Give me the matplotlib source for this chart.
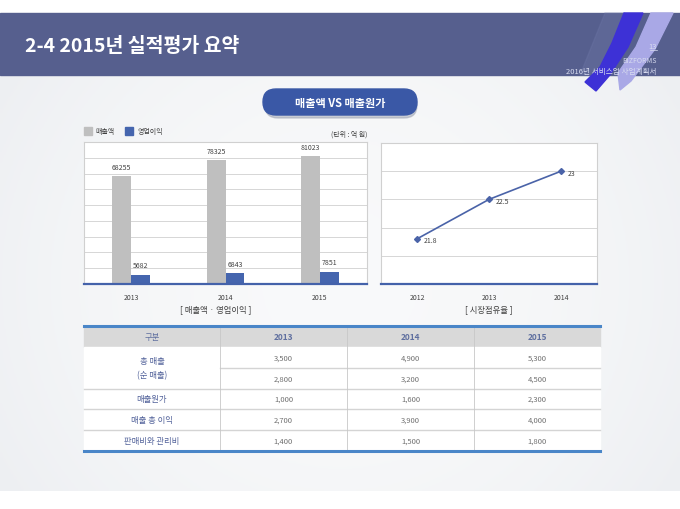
import numpy as np
import matplotlib
matplotlib.use("Agg")
import matplotlib.pyplot as plt
from matplotlib.patches import Rectangle, Polygon, FancyBboxPatch

plt.rcParams['font.family'] = ['Noto Sans CJK KR', 'DejaVu Sans']

# data
bar_years = ['2013', '2014', '2015']
sales = [68255, 78325, 81023]
op_profit = [5682, 6843, 7851]

share_years = ['2012', '2013', '2014']
share = [21.8, 22.5, 23]

table_header = ['구분', '2013', '2014', '2015']
table_labels = ['총 매출\n(순 매출)', '매출원가', '매출 총 이익', '판매비와 관리비']
total_sales = [3500, 4900, 5300]
net_sales = [2800, 3200, 4500]
cost_of_sales = [1000, 1600, 2300]
gross_profit = [2700, 3900, 4000]
sga = [1400, 1500, 1800]

W, H = 680, 510
fig = plt.figure(figsize=(6.8, 5.1), dpi=100)

# full-figure axes in pixel coords for the slide decoration
bg = fig.add_axes([0, 0, 1, 1])
bg.set_xlim(0, W)
bg.set_ylim(H, 0)
bg.axis('off')

# body gradient
gx = np.linspace(-1, 1, 200)
gy = np.linspace(-1, 1, 150)
GX, GY = np.meshgrid(gx, gy)
g = 1 - 0.5 * (GX ** 2) - 0.2 * (GY ** 2)
c_edge = np.array([0.91, 0.92, 0.935])
c_mid = np.array([0.975, 0.978, 0.982])
img = c_edge + (c_mid - c_edge) * g[..., None]
bg.imshow(img, extent=[0, W, 492, 76], aspect='auto', zorder=0)

# header band
bg.add_patch(Rectangle((0, 14), W, 62, color='#565f8e', zorder=2))
bg.add_patch(Polygon([(580, 76), (605, 14), (625, 14), (602, 76)], closed=True,
                     color='#6d76a6', alpha=0.35, zorder=2.5))
bg.add_patch(Polygon([(651, 14), (673, 14), (655, 50), (631, 82), (620, 91), (618, 74), (636, 48)],
                     closed=True, color='#a9a8e6', zorder=3))
bg.add_patch(Polygon([(624, 14), (643, 14), (628, 48), (609, 77), (596, 92), (585, 83), (600, 68), (612, 44)],
                     closed=True, color='#3d31d6', zorder=3.5))

bg.text(25, 46, '2-4 2015년 실적평가 요약', color='white', fontsize=14, fontweight='bold',
        va='center', ha='left', zorder=5)
bg.text(657, 47, '13', color='#d8dcf0', fontsize=5.5, ha='right', va='center', zorder=5)
bg.plot([650, 657], [51, 51], color='#d8dcf0', lw=0.5, zorder=5)
bg.text(657, 61, 'BIZFORMS', color='#d8dcf0', fontsize=5, ha='right', va='center', zorder=5)
bg.text(657, 72, '2016년 서비스업 사업계획서', color='#d8dcf0', fontsize=5.5, ha='right', va='center', zorder=5)

# title button
bg.add_patch(FancyBboxPatch((265, 93), 152, 26, boxstyle='round,pad=0,rounding_size=13',
                            color='#9aa0b0', alpha=0.5, zorder=3))
bg.add_patch(FancyBboxPatch((263, 90), 154, 26, boxstyle='round,pad=0,rounding_size=13',
                            color='#3a58a6', zorder=4))
bg.text(340, 103, '매출액 VS 매출원가', color='white', fontsize=8, fontweight='bold',
        ha='center', va='center', zorder=5)


def px_axes(x0, y0, x1, y1):
    return fig.add_axes([x0 / W, 1 - y1 / H, (x1 - x0) / W, (y1 - y0) / H])


def style_axes(ax):
    ax.set_facecolor('white')
    for s in ['left', 'right', 'top']:
        ax.spines[s].set_color('#d0d0d0')
        ax.spines[s].set_linewidth(0.8)
    ax.spines['bottom'].set_color('#4462aa')
    ax.spines['bottom'].set_linewidth(1.6)
    ax.grid(axis='y', color='#d6d6d6', linewidth=0.7)
    ax.set_axisbelow(True)
    ax.tick_params(axis='y', left=False, labelleft=False)
    ax.tick_params(axis='x', bottom=False, labelsize=5, labelcolor='#404040', pad=3)


# bar chart
ax1 = px_axes(84, 143, 367, 285)
style_axes(ax1)
x = np.arange(len(bar_years))
b1 = ax1.bar(x - 0.1, sales, width=0.2, color='#bfbfbf', zorder=2)
b2 = ax1.bar(x + 0.1, op_profit, width=0.2, color='#4565ae', zorder=2)
for bars in (b1, b2):
    for r in bars:
        ax1.annotate(f'{int(r.get_height())}', (r.get_x() + r.get_width() / 2, r.get_height()),
                     xytext=(0, 4), textcoords='offset points', ha='center', va='bottom',
                     fontsize=5, color='#404040')
ax1.set_xlim(-0.5, 2.5)
ax1.set_ylim(0, 90000)
ax1.set_yticks(np.arange(0, 90001, 10000))
ax1.set_xticks(x)
ax1.set_xticklabels(bar_years)

bg.add_patch(Rectangle((84, 128), 8, 8, color='#bfbfbf'))
bg.text(95, 132, '매출액', fontsize=5, color='#404040', va='center')
bg.add_patch(Rectangle((125, 128), 8, 8, color='#4565ae'))
bg.text(138, 132, '영업이익', fontsize=5, color='#404040', va='center')
bg.text(367, 135, '(단위 : 억 원)', fontsize=5, color='#404040', va='center', ha='right')
bg.text(216, 310, '[ 매출액 · 영업이익 ]', fontsize=6, color='#404040', ha='center', va='center')

# line chart
ax2 = px_axes(381, 144, 597, 285)
style_axes(ax2)
x2 = np.arange(len(share_years))
ax2.plot(x2, share, color='#4a63a8', lw=1.2, marker='D', markersize=3, zorder=3)
for xi, v in zip(x2, share):
    ax2.annotate(f'{v:g}', (xi, v), xytext=(5, -1), textcoords='offset points',
                 ha='left', va='center', fontsize=5, color='#404040')
ax2.set_xlim(-0.5, 2.5)
ax2.set_ylim(21, 23.5)
ax2.set_yticks(np.arange(21, 23.51, 0.5))
ax2.set_xticks(x2)
ax2.set_xticklabels(share_years)
bg.text(593, 157, '▲0.5%상승', fontsize=9, fontweight='bold', color='#e2702e',
        ha='right', va='center', zorder=6)
bg.text(489, 310, '[ 시장점유율 ]', fontsize=6, color='#404040', ha='center', va='center')

# table
cols = [84, 220, 347, 474, 600]
rows = [327, 348, 369, 390, 410, 431, 452]
bg.add_patch(Rectangle((cols[0], rows[0]), cols[-1] - cols[0], rows[1] - rows[0], color='#d9d9d9', zorder=2))
bg.add_patch(Rectangle((cols[0], rows[1]), cols[-1] - cols[0], rows[-1] - rows[1], color='white', zorder=2))
for yy in rows[2:-1]:
    x_start = cols[1] if yy == rows[2] else cols[0]
    bg.plot([x_start, cols[-1]], [yy, yy], color='#d4d4d4', lw=1.0, zorder=3)
for xx in cols[1:-1]:
    bg.plot([xx, xx], [rows[0], rows[-1]], color='#c8c8c8', lw=0.6, zorder=3)
bg.plot([cols[0], cols[-1]], [rows[0], rows[0]], color='#4a86c8', lw=2.2, zorder=4)
bg.plot([cols[0], cols[-1]], [rows[-1], rows[-1]], color='#4a86c8', lw=2.2, zorder=4)

for i, h in enumerate(table_header):
    cx = (cols[i] + cols[i + 1]) / 2
    bg.text(cx, (rows[0] + rows[1]) / 2, h, fontsize=6, color='#5f6f9f',
            fontweight='normal' if i == 0 else 'bold', ha='center', va='center', zorder=5)

label_c = '#52629a'
num_c = '#707070'
first_cx = (cols[0] + cols[1]) / 2
bg.text(first_cx, (rows[1] + rows[3]) / 2, table_labels[0], fontsize=6, color=label_c,
        ha='center', va='center', linespacing=1.7, zorder=5)
body_rows = [total_sales, net_sales, cost_of_sales, gross_profit, sga]
for r, vals in enumerate(body_rows):
    cy = (rows[r + 1] + rows[r + 2]) / 2
    if r >= 2:
        bg.text(first_cx, cy, table_labels[r - 1], fontsize=6, color=label_c,
                ha='center', va='center', zorder=5)
    for c, v in enumerate(vals):
        cx = (cols[c + 1] + cols[c + 2]) / 2
        bg.text(cx, cy, f'{v:,}', fontsize=5.5, color=num_c, ha='center', va='center', zorder=5)

fig.savefig('out.png', dpi=100)
